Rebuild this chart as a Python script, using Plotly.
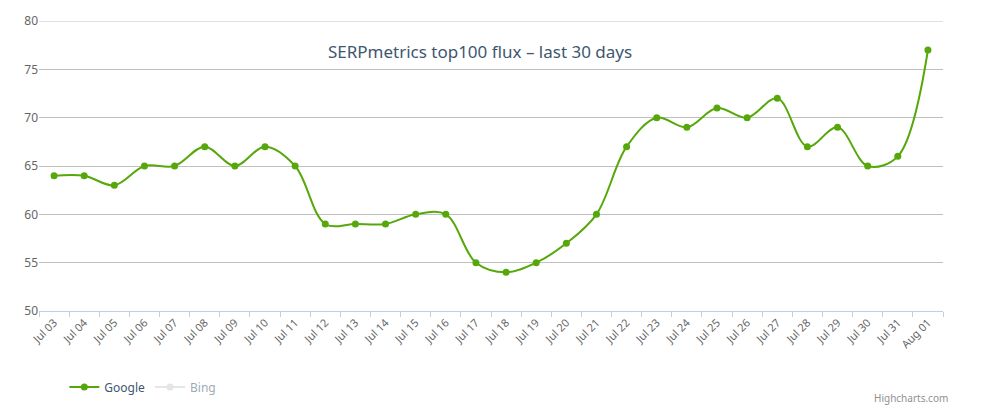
import plotly.graph_objects as go

categories = ["Jul 03", "Jul 04", "Jul 05", "Jul 06", "Jul 07", "Jul 08", "Jul 09", "Jul 10",
              "Jul 11", "Jul 12", "Jul 13", "Jul 14", "Jul 15", "Jul 16", "Jul 17", "Jul 18",
              "Jul 19", "Jul 20", "Jul 21", "Jul 22", "Jul 23", "Jul 24", "Jul 25", "Jul 26",
              "Jul 27", "Jul 28", "Jul 29", "Jul 30", "Jul 31", "Aug 01"]
google = [64, 64, 63, 65, 65, 67, 65, 67, 65, 59, 59, 59, 60, 60, 55, 54,
          55, 57, 60, 67, 70, 69, 71, 70, 72, 67, 69, 65, 66, 77]
bing = [None] * len(categories)
y_ticks = [50, 55, 60, 65, 70, 75, 80]

FONT = "Noto Sans, Open Sans, DejaVu Sans, sans-serif"

fig = go.Figure()
fig.add_trace(go.Scatter(
    x=categories, y=google, name="Google", mode="lines+markers",
    line=dict(color="#56A80A", width=2, shape="spline", smoothing=1.0),
    marker=dict(color="#56A80A", size=7),
))
fig.add_trace(go.Scatter(
    x=categories, y=bing, name="Bing", mode="lines+markers",
    line=dict(color="#CCCCCC", width=2), marker=dict(color="#CCCCCC", size=7),
    visible="legendonly",
))

fig.update_layout(
    width=984, height=407,
    margin=dict(l=31, r=49, t=13, b=104, autoexpand=False),
    paper_bgcolor="white", plot_bgcolor="white",
    font=dict(family=FONT, color="#666666"),
    title=dict(text="SERPmetrics top100 flux \u2013 last 30 days",
               x=472 / 984, xanchor="center", y=1 - 44 / 407, yanchor="middle",
               font=dict(size=17, color="#3E576F", family=FONT)),
    showlegend=True,
    legend=dict(orientation="h", x=0.028, xanchor="left", y=-0.262, yanchor="middle",
                font=dict(size=12, color="#3E576F", family=FONT),
                itemwidth=30, bgcolor="rgba(0,0,0,0)"),
    xaxis=dict(type="category", range=[-0.5, len(categories) - 0.5], automargin=False,
               tickson="boundaries", ticks="outside", ticklen=5, tickcolor="#C0D0E0",
               showline=True, linecolor="#C0D0E0", linewidth=1,
               showgrid=False, tickangle=-45,
               tickfont=dict(size=11, color="#666666", family=FONT), fixedrange=True),
    yaxis=dict(range=[y_ticks[0], y_ticks[-1]], tickvals=y_ticks, showgrid=True,
               gridcolor="#C0C0C0", gridwidth=1, zeroline=False, showline=False,
               ticks="", automargin=False,
               tickfont=dict(size=12, color="#666666", family=FONT), fixedrange=True),
    shapes=[dict(type="line", xref="paper", yref="y", x0=0, x1=1,
                 y0=y_ticks[-1], y1=y_ticks[-1], layer="below",
                 line=dict(color="#C0C0C0", width=1))],
    annotations=[dict(text="Highcharts.com", xref="paper", yref="paper",
                      x=1.008, y=-0.30, xanchor="right", yanchor="middle",
                      showarrow=False, font=dict(size=10, color="#909090", family=FONT))],
)

fig.write_html("out.html")
